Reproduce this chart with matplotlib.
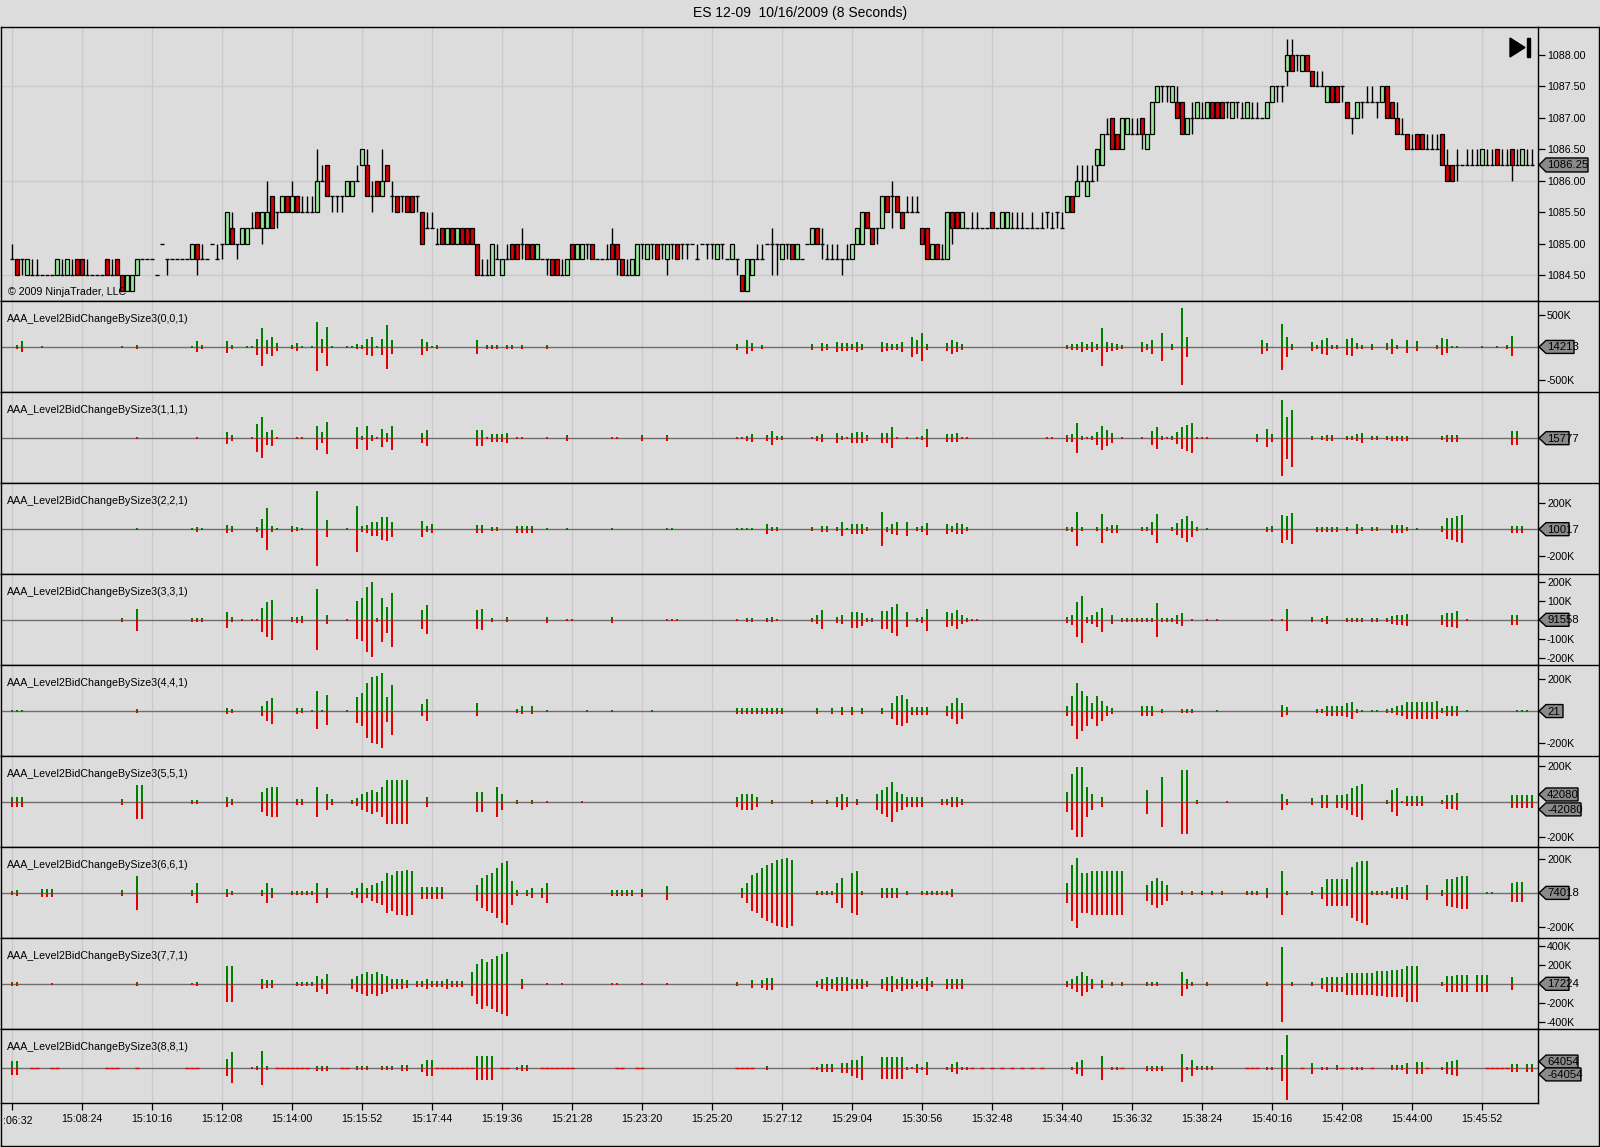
import matplotlib
matplotlib.use("Agg")
import matplotlib.pyplot as plt
from matplotlib.patches import Polygon

plt.rcParams['font.family'] = ['Liberation Sans', 'DejaVu Sans']

# ---------------------------------------------------------------- data
TITLE = "ES 12-09  10/16/2009 (8 Seconds)"
COPYRIGHT = "\u00a9 2009 NinjaTrader, LLC"
# first label is cut by the left edge in the reference, only ":06:32" is visible
TIME_LABELS = [":06:32", "15:08:24", "15:10:16", "15:12:08", "15:14:00", "15:15:52",
               "15:17:44", "15:19:36", "15:21:28", "15:23:20", "15:25:20", "15:27:12",
               "15:29:04", "15:30:56", "15:32:48", "15:34:40", "15:36:32", "15:38:24",
               "15:40:16", "15:42:08", "15:44:00", "15:45:52"]
TIME_LABEL_BARS = [0, 14, 28, 42, 56, 70, 84, 98, 112, 126, 140, 154, 168, 182, 196, 210,
                   224, 238, 252, 266, 280, 294]

PRICE_BASE = 1084.0
TICK = 0.25
PRICE_TICKS = [1084.5, 1085.0, 1085.5, 1086.0, 1086.5, 1087.0, 1087.5, 1088.0]
PRICE_GRID = [1084.5, 1086.0, 1087.5]
LAST_PRICE = 1086.25

# OHLC in ticks above PRICE_BASE, one entry per 8-second bar
O_T = [3,3,3,2,2,2,2,2,2,2, 2,2,2,3,3,2,2,2,2,3, 2,3,2,1,1,2,3,3,3,2, 4,3,3,3,3,3,3,4,3,3,
       4,3,4,4,5,4,4,4,5,6, 5,5,7,6,6,7,6,7,6,6, 6,6,8,9,7,7,7,7,7,8, 9,9,7,8,7,9,7,7,7,7,
       7,7,6,5,5,4,5,4,5,4, 5,5,5,4,2,2,2,3,2,3, 4,4,4,4,4,3,3,3,3,3, 2,2,4,3,3,4,4,3,3,3,
       4,4,3,2,2,2,4,3,4,4, 4,3,4,4,4,4,4,3,4,4, 4,3,4,3,3,3,2,1,2,3, 3,4,4,4,3,4,4,3,3,4,
       4,5,4,3,3,3,3,3,3,4, 4,6,5,5,5,7,7,7,6,6, 6,6,5,5,3,4,3,3,6,6, 5,5,5,5,5,5,6,5,5,5,
       5,5,5,5,5,5,5,6,5,6, 5,6,7,7,8,7,8,9,9,11, 12,11,10,11,11,11,12,10,11,13,
       14,14,13,13,13,11,12,12,12,12, 13,13,13,13,12,13,12,12,12,12, 12,12,13,14,14,15,16,16,15,16,
       15,14,14,13,14,14,14,13,12,12, 13,13,13,13,13,14,13,12,11,11, 10,11,11,10,10,10,11,9,9,9,
       9,9,9,9,9,9,9,10,9,9, 10,9,9,9,9]
C_T = [3,2,3,3,2,2,2,2,2,3, 2,3,2,2,2,2,2,2,2,2, 2,2,1,2,2,3,3,3,3,2, 4,3,3,3,3,3,4,3,3,3,
       4,3,4,6,4,4,5,5,5,5, 6,6,5,6,7,6,7,6,6,6, 6,8,8,7,7,7,7,8,8,8, 10,7,7,7,8,8,7,6,7,6,
       6,7,4,5,5,4,4,5,4,5, 4,4,4,2,2,2,4,3,3,3, 3,3,4,3,3,4,3,3,2,2, 2,3,3,4,4,4,3,3,3,3,
       3,3,2,2,3,4,4,4,4,3, 4,4,4,3,4,4,4,3,4,4, 4,4,4,3,4,3,1,3,3,3, 3,4,4,4,4,4,3,4,3,4,
       5,4,4,3,3,3,3,3,4,5, 6,5,4,5,7,6,7,6,5,6, 6,6,4,3,4,3,3,6,5,5, 6,5,5,5,5,5,5,5,6,6,
       5,5,5,5,5,5,5,6,5,6, 5,7,6,8,8,8,8,10,11,11, 10,10,12,12,11,11,11,11,13,14,
       14,14,14,12,11,12,12,13,12,13, 12,12,12,13,13,13,12,13,12,12, 12,13,14,14,14,16,15,16,16,15,
       14,14,14,14,13,13,14,12,12,13, 13,13,13,13,14,12,12,11,11,10, 10,10,10,10,10,10,9,8,8,9,
       9,9,9,9,10,9,9,9,9,9, 9,9,10,9,9]
H_T = [4,3,3,3,3,3,2,2,2,3, 3,3,3,3,3,3,2,2,2,3, 3,3,2,2,2,3,3,3,3,2, 4,3,3,3,3,3,4,4,4,3,
       4,4,4,6,6,4,5,5,6,6, 6,8,7,6,7,7,8,7,7,7, 7,10,9,9,7,7,7,8,8,9, 10,10,8,8,10,9,8,7,7,7,
       7,7,6,6,6,5,5,5,5,5, 5,5,5,4,3,3,4,4,3,4, 4,4,5,4,4,4,3,3,3,3, 3,3,4,4,4,4,4,3,3,4,
       5,4,3,3,3,4,4,4,4,4, 4,4,4,4,4,4,4,4,4,4, 4,4,4,3,4,3,2,3,3,4, 4,4,5,4,4,4,4,4,3,4,
       5,5,5,4,4,4,3,4,4,5, 6,6,5,5,7,7,8,7,6,7, 7,7,5,5,4,4,4,6,6,6, 6,5,6,6,5,5,6,5,6,6,
       6,6,6,5,6,5,6,6,6,6, 6,7,7,9,9,9,9,10,11,12, 12,11,12,12,12,12,12,11,13,14,
       14,14,14,14,13,12,13,13,13,13, 13,13,13,13,13,13,13,13,13,13, 12,13,14,14,14,17,17,16,16,16,
       15,15,15,14,14,14,14,13,12,13, 13,14,14,13,14,14,13,13,12,11, 11,11,11,11,11,11,11,10,9,10,
       9,10,10,10,10,10,10,10,10,10, 10,10,10,10,10]
L_T = [3,2,2,2,2,2,2,2,2,2, 2,2,2,2,2,2,2,2,2,2, 2,2,1,1,1,2,3,3,3,2, 4,2,3,3,3,3,3,2,3,3,
       4,3,3,4,4,3,4,4,5,5, 4,5,5,5,6,6,6,6,6,6, 6,6,8,7,6,6,6,7,7,8, 9,7,6,7,7,8,6,6,6,6,
       6,6,4,5,5,4,4,4,4,4, 4,4,4,2,2,2,2,3,2,3, 3,3,3,3,3,3,3,2,2,2, 2,2,3,3,3,3,3,3,3,3,
       3,2,2,2,2,2,3,3,3,3, 3,2,3,3,3,3,4,3,4,3, 3,3,3,3,3,2,1,1,2,3, 3,4,2,2,3,3,3,3,3,4,
       4,4,3,3,3,3,2,3,3,4, 4,5,4,4,5,6,5,6,5,6, 6,6,4,3,3,3,3,3,4,5, 5,5,5,5,5,5,5,5,5,5,
       5,5,5,5,5,5,5,5,5,5, 5,6,6,7,8,7,8,8,9,11, 10,10,10,11,11,11,10,10,11,13,
       13,13,13,12,11,11,11,12,12,12, 12,12,12,12,12,12,12,12,12,12, 12,12,13,13,13,14,15,15,15,15,
       14,14,14,13,13,13,13,12,11,12, 12,13,13,12,13,12,12,11,11,10, 10,10,10,10,10,10,9,8,8,8,
       9,9,9,9,9,9,9,9,9,9, 8,9,9,9,9]

PANEL_NAMES = ["AAA_Level2BidChangeBySize3(%d,%d,1)" % (k, k) for k in range(9)]

# (bar index, green value up [K], red value down [K])
BARS_0 = [(1,30,30),(2,90,75),(6,15,15),(22,15,15),(25,30,30),(36,15,15),(37,90,75),(38,30,30),
          (43,90,90),(44,30,30),(47,15,15),(48,15,15),(49,125,125),(50,290,290),(51,110,110),
          (52,155,140),(53,60,60),(56,30,30),(57,60,60),(58,15,15),(60,15,15),(61,385,370),
          (62,125,90),(63,310,290),(64,15,15),(67,15,15),(68,15,15),(69,45,30),(70,30,30),
          (71,125,125),(72,155,140),(73,15,15),(74,125,125),(75,340,340),(76,110,110),
          (82,125,125),(83,75,60),(84,15,15),(85,30,30),(93,110,110),(95,30,30),(96,30,30),
          (97,30,30),(99,30,30),(100,30,30),(102,30,30),(107,30,30),(145,45,45),(147,110,110),
          (148,60,60),(150,30,30),(160,45,45),(162,60,60),(163,45,45),(165,75,75),(166,60,60),
          (167,60,60),(168,45,45),(169,75,75),(170,45,45),(174,75,75),(175,60,60),(176,45,45),
          (177,45,45),(178,75,75),(180,155,155),(181,110,110),(182,215,215),(183,45,45),
          (187,60,60),(188,110,110),(189,75,75),(190,45,45),(211,30,30),(212,45,45),(213,45,45),
          (214,75,75),(215,45,45),(216,75,75),(217,45,45),(218,290,290),(219,75,75),(220,60,60),
          (221,45,45),(222,30,30),(226,75,75),(227,45,45),(228,110,110),(230,215,215),
          (232,45,45),(234,600,580),(235,155,155),(250,110,110),(251,60,60),(254,355,355),
          (255,155,155),(256,45,45),(260,75,65),(261,30,30),(262,110,110),(263,140,120),
          (264,30,30),(265,30,30),(267,125,130),(268,140,145),(269,60,30),(270,30,30),
          (272,45,45),(275,60,45),(276,125,110),(277,30,30),(279,110,90),(281,90,65),
          (285,30,30),(286,140,130),(287,125,90),(288,15,15),(289,15,15),(294,15,15),
          (297,15,15),(299,30,30),(300,165,145)]
BARS_1 = [(25,10,10),(37,10,10),(43,67,57),(44,33,27),(48,10,10),(49,143,133),(50,217,193),
          (51,67,67),(52,83,73),(53,10,10),(57,10,10),(58,10,10),(61,123,117),(62,67,50),
          (63,163,157),(69,117,107),(70,20,20),(71,123,117),(72,30,30),(73,10,10),(74,93,83),
          (75,50,40),(76,123,117),(82,57,43),(83,83,77),(93,83,77),(94,83,77),(95,10,10),
          (96,43,33),(97,43,33),(98,43,33),(99,57,50),(101,10,10),(102,10,10),(107,10,10),
          (111,33,23),(120,10,10),(121,10,10),(126,30,30),(131,30,30),(145,10,10),(146,10,10),
          (147,25,25),(148,43,40),(151,33,23),(152,77,67),(153,20,20),(154,20,20),(160,10,10),
          (161,27,23),(162,43,33),(165,57,43),(166,20,20),(167,10,10),(168,57,47),(169,63,50),
          (170,63,50),(171,30,30),(174,57,43),(175,57,43),(176,117,100),(177,10,10),(179,10,10),
          (181,10,10),(182,20,20),(183,93,83),(187,43,33),(188,43,33),(189,57,40),(190,10,10),
          (191,10,10),(207,10,10),(208,10,10),(211,33,33),(212,43,40),(213,150,143),(214,20,20),
          (215,10,10),(216,20,20),(217,67,67),(218,123,117),(219,83,73),(220,50,50),(222,10,10),
          (226,10,10),(228,73,67),(229,110,107),(230,20,20),(231,10,10),(232,20,20),(233,67,57),
          (234,110,107),(235,133,127),(236,157,143),(237,10,10),(238,10,10),(239,10,10),
          (249,43,40),(251,93,83),(252,43,33),(254,383,373),(255,217,207),(256,283,283),
          (260,20,20),(262,20,20),(263,33,27),(264,33,27),(267,20,20),(268,20,20),(269,43,27),
          (270,50,43),(272,20,20),(273,20,20),(275,20,20),(276,25,25),(277,25,25),(278,25,25),
          (279,25,25),(286,20,20),(287,33,33),(288,33,33),(289,33,33),(300,73,67),(301,73,67)]
BARS_2 = [(25,8,8),(36,8,8),(37,20,17),(38,8,8),(43,32,25),(44,28,23),(49,20,17),(50,75,68),
          (51,160,155),(52,25,20),(53,8,8),(56,25,20),(57,15,15),(58,8,8),(61,290,280),
          (63,70,60),(67,8,8),(69,175,170),(70,28,23),(71,32,30),(72,53,50),(73,53,50),
          (74,95,80),(75,90,88),(76,58,55),(82,63,55),(83,28,23),(84,40,30),(93,32,25),
          (94,32,25),(96,15,15),(97,15,15),(101,25,25),(102,25,25),(103,25,25),(104,25,25),
          (107,8,8),(111,8,8),(120,8,8),(131,8,8),(132,8,8),(145,8,8),(146,8,8),(147,8,8),
          (148,8,8),(151,40,35),(152,15,15),(153,15,15),(160,15,15),(162,28,23),(163,28,23),
          (165,15,15),(166,53,50),(167,8,8),(168,38,35),(169,38,35),(170,38,35),(171,15,15),
          (174,128,123),(175,20,17),(176,40,35),(177,53,45),(179,53,50),(181,15,15),(182,25,17),
          (183,45,40),(187,40,35),(188,28,23),(189,45,35),(190,40,35),(191,15,15),(211,15,15),
          (212,20,17),(213,128,123),(214,15,15),(217,15,15),(218,113,105),(219,15,15),
          (220,32,25),(221,32,25),(226,15,15),(227,15,15),(228,53,43),(229,113,105),(232,15,15),
          (233,45,40),(234,75,68),(235,100,93),(236,63,55),(237,15,15),(239,8,8),(251,20,20),
          (252,28,23),(254,108,100),(255,100,80),(256,120,113),(261,19,19),(262,19,19),
          (263,19,19),(264,19,19),(265,19,19),(267,15,15),(269,40,35),(270,15,15),(272,15,15),
          (273,15,15),(276,32,25),(277,32,25),(278,32,25),(279,15,15),(281,8,8),(286,23,23),
          (287,83,75),(288,88,80),(289,103,95),(290,108,100),(300,28,25),(301,28,25),(302,28,25)]
BARS_3 = [(22,12,12),(25,56,55),(36,10,10),(37,10,10),(38,10,10),(43,43,40),(44,13,13),(46,5,5),
          (48,5,5),(49,5,5),(50,60,60),(51,94,91),(52,103,103),(56,13,13),(57,15,15),(58,21,17),
          (61,159,157),(63,26,21),(67,5,5),(69,100,100),(70,112,110),(71,171,168),(72,197,193),
          (73,10,10),(74,114,112),(75,68,66),(76,142,142),(82,51,48),(83,77,73),(93,51,48),
          (94,56,51),(96,10,10),(99,13,13),(107,17,15),(111,5,5),(112,5,5),(120,17,15),
          (131,5,5),(132,5,5),(133,5,5),(145,5,5),(147,10,10),(148,12,12),(151,10,10),
          (152,13,13),(153,5,5),(160,10,10),(161,26,22),(162,51,48),(165,17,15),(166,26,22),
          (168,40,40),(169,40,40),(170,34,31),(171,10,10),(172,10,10),(174,46,46),(175,46,46),
          (176,68,68),(177,82,81),(179,40,34),(181,10,10),(182,17,15),(183,56,55),(187,40,38),
          (188,34,31),(189,51,48),(190,26,22),(191,10,10),(192,5,5),(193,5,5),(211,17,15),
          (212,26,24),(213,94,86),(214,123,120),(215,15,15),(216,26,22),(217,40,34),(218,60,60),
          (220,26,22),(222,12,12),(223,12,12),(224,12,12),(225,12,12),(226,12,12),(227,12,12),
          (228,12,12),(229,89,86),(230,10,10),(231,10,10),(232,10,10),(233,26,22),(234,34,31),
          (236,5,5),(239,5,5),(241,5,5),(252,5,5),(254,5,5),(255,55,55),(260,14,12),(262,10,10),
          (263,21,21),(267,10,10),(268,10,10),(269,10,10),(270,10,10),(272,10,10),(273,10,10),
          (275,10,10),(276,21,21),(277,26,26),(278,26,26),(279,29,29),(286,26,26),(287,34,34),
          (288,34,34),(289,46,43),(291,5,5),(300,26,26),(301,26,26)]
BARS_4 = [(0,6,6),(1,6,6),(2,6,6),(25,12,12),(43,19,19),(44,12,12),(50,31,31),(51,62,62),
          (52,81,81),(57,19,19),(58,21,14),(60,6,6),(61,125,114),(62,6,6),(63,98,89),(67,6,6),
          (69,88,77),(70,111,94),(71,173,167),(72,212,198),(73,219,208),(74,239,229),(75,88,69),
          (76,161,150),(82,42,31),(83,73,62),(93,48,31),(101,12,12),(102,31,19),(104,31,19),
          (107,6,6),(115,6,6),(120,6,6),(128,6,6),(145,19,19),(146,19,19),(147,19,19),
          (148,19,19),(149,19,19),(150,19,19),(151,19,19),(152,19,19),(153,19,19),(154,19,19),
          (161,19,19),(164,19,19),(166,25,25),(168,25,25),(170,19,19),(174,19,19),(176,50,50),
          (177,94,88),(178,100,94),(179,75,75),(180,25,25),(181,25,25),(182,25,25),(183,25,25),
          (187,31,31),(188,50,50),(189,81,81),(190,50,50),(211,31,31),(212,94,94),(213,175,175),
          (214,125,125),(215,94,94),(216,50,50),(217,94,94),(218,62,62),(219,31,31),(220,19,19),
          (226,31,31),(227,31,31),(228,31,31),(230,12,12),(234,12,12),(235,12,12),(236,12,12),
          (241,6,6),(254,38,38),(255,25,25),(261,12,12),(262,12,12),(263,31,31),(264,31,31),
          (265,31,31),(266,31,31),(267,48,39),(268,58,52),(269,12,12),(270,6,6),(272,6,6),
          (273,6,6),(275,12,12),(276,17,12),(277,31,25),(278,38,31),(279,58,52),(280,58,52),
          (281,58,52),(282,58,52),(283,58,52),(284,58,52),(285,65,52),(286,17,12),(287,31,31),
          (288,31,31),(289,31,31),(291,6,6),(301,6,6),(302,6,6),(303,6,6)]
BARS_5 = [(0,28,28),(1,28,28),(2,28,28),(22,17,17),(25,96,96),(26,96,96),(36,11,11),(37,11,11),
          (43,28,28),(44,17,17),(50,56,56),(51,79,79),(52,84,84),(53,84,84),(57,17,17),
          (58,17,17),(61,84,84),(63,45,45),(64,17,17),(68,11,11),(69,23,23),(70,45,45),
          (71,56,56),(72,68,68),(73,56,56),(74,84,84),(75,124,124),(76,124,124),(77,124,124),
          (78,124,124),(79,124,124),(83,28,28),(93,56,56),(94,56,56),(97,84,84),(98,45,45),
          (101,11,11),(104,11,11),(107,6,6),(114,6,6),(145,28,28),(146,45,45),(147,45,45),
          (148,45,45),(149,28,28),(152,11,11),(160,11,11),(163,11,11),(165,28,28),(166,45,45),
          (167,28,28),(169,17,17),(173,45,45),(174,68,68),(175,84,84),(176,113,113),(177,56,56),
          (178,45,45),(179,28,28),(180,28,28),(181,28,28),(182,28,28),(186,17,17),(187,17,17),
          (188,28,28),(189,28,28),(190,17,17),(211,56,56),(212,158,158),(213,197,197),
          (214,197,197),(215,84,84),(216,45,45),(218,28,28),(227,68,68),(230,141,141),
          (234,180,180),(235,180,180),(237,11,11),(243,6,6),(254,45,45),(255,17,17),(260,23,19),
          (262,38,34),(263,38,34),(265,38,34),(266,38,34),(267,45,43),(268,79,72),(269,88,84),
          (270,101,100),(275,13,13),(276,69,58),(277,79,77),(278,6,6),(279,32,24),(280,32,24),
          (281,32,24),(282,32,24),(286,13,13),(287,38,38),(288,41,41),(289,51,47),(300,41,34),
          (301,41,34),(302,41,34),(303,41,34),(304,41,34)]
BARS_6 = [(0,12,12),(1,18,18),(6,24,24),(7,24,24),(8,24,24),(22,18,18),(25,100,100),(36,18,18),
          (37,59,59),(43,24,24),(44,12,12),(50,18,18),(51,59,59),(52,29,29),(56,12,12),(57,12,12),
          (58,12,12),(59,12,12),(60,12,12),(61,59,59),(63,29,29),(68,12,12),(69,29,29),(70,59,59),
          (71,29,29),(72,47,47),(73,59,59),(74,71,71),(75,118,118),(76,106,106),(77,129,129),
          (78,129,129),(79,135,135),(80,129,129),(82,35,35),(83,35,35),(84,35,35),(85,35,35),
          (86,35,35),(93,47,47),(94,88,88),(95,106,106),(96,118,118),(97,147,147),(98,176,176),
          (99,188,188),(100,71,71),(101,18,18),(103,18,18),(104,29,29),(106,29,29),(107,59,59),
          (120,18,18),(121,18,18),(122,18,18),(123,18,18),(124,18,18),(126,24,24),(131,41,41),
          (146,29,29),(147,59,59),(148,106,106),(149,118,118),(150,147,147),(151,165,165),
          (152,176,176),(153,194,194),(154,200,200),(155,206,206),(156,194,194),(161,12,12),
          (162,12,12),(163,12,12),(164,12,12),(165,59,59),(166,88,88),(168,118,118),
          (169,129,129),(170,12,12),(174,29,29),(175,29,29),(176,29,29),(177,29,29),(179,12,12),
          (182,12,12),(183,12,12),(184,12,12),(185,12,12),(186,12,12),(187,12,12),(188,24,24),
          (211,59,59),(212,165,165),(213,206,206),(214,118,118),(215,118,118),(216,129,129),
          (217,129,129),(218,129,129),(219,129,129),(220,129,129),(221,129,129),(222,129,129),
          (227,47,47),(228,71,71),(229,88,88),(230,71,71),(231,47,47),(234,12,12),(236,12,12),
          (238,12,12),(240,12,12),(242,12,12),(247,12,12),(248,12,12),(249,12,12),(251,29,29),
          (254,129,129),(255,12,12),(260,14,14),(262,35,34),(263,82,78),(264,82,78),(265,82,78),
          (266,82,78),(267,82,78),(268,153,147),(269,182,166),(270,186,176),(271,186,186),
          (272,12,12),(273,12,12),(274,12,12),(275,12,12),(276,29,29),(277,35,35),(278,35,35),
          (279,45,39),(283,45,39),(286,19,19),(287,82,78),(288,84,80),(289,92,88),(290,98,94),
          (291,98,94),(295,6,6),(296,6,6),(300,59,55),(301,63,55),(302,65,55)]
BARS_7 = [(0,21,21),(1,21,21),(8,10,10),(25,21,21),(36,10,10),(37,21,21),(43,189,189),
          (44,189,189),(50,52,52),(51,42,42),(52,42,42),(57,21,21),(58,21,21),(59,21,21),
          (60,21,21),(61,84,84),(62,52,52),(63,105,105),(68,52,52),(69,84,84),(70,105,105),
          (71,126,126),(72,105,105),(73,126,126),(74,105,105),(75,84,84),(76,52,52),(77,52,52),
          (78,52,52),(79,42,42),(81,31,31),(82,31,31),(83,52,52),(84,31,31),(85,31,31),
          (86,31,31),(87,52,52),(88,31,31),(89,31,31),(90,31,31),(92,126,126),(93,210,210),
          (94,262,262),(95,231,231),(96,262,262),(97,294,294),(98,315,315),(99,336,336),
          (102,52,52),(107,10,10),(110,10,10),(120,10,10),(121,10,10),(126,10,10),(131,10,10),
          (145,21,21),(148,42,42),(150,42,42),(151,63,63),(152,63,63),(161,31,31),(162,52,52),
          (163,73,73),(164,52,52),(165,73,73),(166,73,73),(167,73,73),(168,52,52),(169,52,52),
          (170,52,52),(171,31,31),(174,52,52),(175,73,73),(176,84,84),(177,52,52),(178,73,73),
          (179,52,52),(180,52,52),(181,31,31),(182,52,52),(183,73,73),(184,31,31),(187,52,52),
          (188,52,52),(189,52,52),(190,52,52),(211,31,31),(212,52,52),(213,84,84),(214,126,126),
          (215,84,84),(216,52,52),(218,42,42),(220,21,21),(222,21,21),(227,21,21),(228,21,21),
          (229,21,21),(234,126,126),(235,52,52),(236,21,21),(239,21,21),(251,21,21),
          (254,388,400),(256,21,21),(260,24,24),(262,66,56),(263,77,81),(264,77,81),(265,77,81),
          (266,77,81),(267,119,116),(268,119,116),(269,119,116),(270,119,116),(271,119,116),
          (272,119,116),(273,137,126),(274,137,126),(275,137,133),(276,147,140),(277,147,140),
          (278,154,140),(279,189,186),(280,189,186),(281,189,186),(286,24,24),(287,84,81),
          (288,84,81),(289,95,88),(290,95,88),(291,95,88),(293,95,88),(294,95,88),(295,95,88),
          (300,70,63)]
BARS_8 = [(0,73,67),(1,73,67),(43,90,83),(44,157,150),(48,10,10),(49,23,23),(50,173,173),
          (51,20,20),(61,23,27),(62,23,27),(63,23,27),(69,20,20),(70,20,20),(71,20,20),(74,20,20),
          (75,20,20),(76,20,20),(78,30,30),(79,30,30),(82,43,43),(83,83,83),(84,83,83),
          (93,117,117),(94,117,117),(95,117,117),(96,117,117),(101,15,15),(102,33,33),(103,33,33),
          (151,20,20),(161,15,15),(162,40,43),(163,40,43),(164,40,43),(166,50,50),(167,50,50),
          (168,77,77),(169,83,100),(170,123,123),(174,107,107),(175,107,107),(176,107,107),
          (177,107,107),(178,107,107),(179,15,15),(180,10,10),(181,40,50),(182,15,15),
          (183,63,67),(187,15,15),(188,40,43),(189,60,60),(190,15,15),(191,15,15),(212,15,15),
          (213,60,60),(214,77,83),(218,123,123),(220,15,15),(221,15,15),(227,25,25),(228,25,25),
          (229,25,25),(230,25,25),(234,143,143),(235,15,15),(236,83,77),(237,20,20),(238,20,20),
          (239,20,20),(240,20,20),(251,15,15),(252,15,15),(254,133,133),(255,327,323),
          (260,50,57),(262,15,15),(263,15,15),(265,27,23),(268,15,15),(269,15,15),(270,15,15),
          (276,27,23),(277,27,23),(278,27,23),(279,50,57),(281,57,55),(282,57,55),(286,15,15),
          (287,60,60),(288,67,67),(289,83,77),(300,43,43),(301,43,43),(303,43,43),(304,43,43)]
P8_ZERO_MARKS = [4,5,8,9,19,20,21,25,35,36,37,53,54,55,56,57,58,59,66,67,85,86,87,88,89,90,91,
                 92,98,99,106,107,108,109,110,111,112,121,122,125,126,145,146,147,148,160,192,
                 194,196,198,200,202,204,206,222,247,248,249,258,266,272,283,295,296,297,298,299]

PANEL_BARS = [BARS_0, BARS_1, BARS_2, BARS_3, BARS_4, BARS_5, BARS_6, BARS_7, BARS_8]
PANEL_YLIM = [(-692, 708), (-447, 463), (-337, 349), (-234, 239), (-281, 288), (-254, 259),
              (-265, 271), (-474, 484), (-350, 390)]
PANEL_TICKS = [[500, -500], [], [200, -200], [200, 100, -100, -200], [200, -200], [200, -200],
               [200, -200], [400, 200, -200, -400], []]
# right-hand value markers: (value, text, box right edge px)
PANEL_MARKERS = [[(1.421, "14213", 1574)], [(1.577, "15777", 1569)], [(1.001, "10017", 1569)],
                 [(0.9155, "91558", 1569)], [(0.021, "21", 1563)],
                 [(42.08, "42080", 1578), (-42.08, "-42080", 1581)], [(0.7401, "74018", 1569)],
                 [(1.722, "17224", 1569)], [(64.054, "64054", 1578), (-64.054, "-64054", 1581)]]

# ---------------------------------------------------------------- style
W, H = 1600, 1147
BG = "#DCDCDC"
GRID = "#C9C9C9"
GREEN = "#007F00"
RED = "#E60000"
UP_FILL = "#98E898"
DN_FILL = "#D20000"
FS = 7.7
XL = (-2.2, 305.2)
PANEL_TOPS = [301, 392, 483, 574, 665, 756, 847, 938, 1029]
PANEL_BOTS = [392, 483, 574, 665, 756, 847, 938, 1029, 1103]
RIGHT_X = 1538


def rect(x0, y0, x1, y1):
    return [x0 / W, 1 - y1 / H, (x1 - x0) / W, (y1 - y0) / H]


def style_axes(ax):
    ax.set_facecolor(BG)
    ax.set_xlim(*XL)
    for s in ax.spines.values():
        s.set_color("black")
        s.set_linewidth(1.0)
    ax.set_xticks(TIME_LABEL_BARS)
    ax.grid(axis="x", color=GRID, lw=0.9)
    ax.set_axisbelow(True)
    ax.yaxis.tick_right()
    ax.tick_params(axis="y", direction="out", length=5, width=0.9, labelsize=FS, pad=1.5,
                   colors="black")
    ax.tick_params(axis="x", length=0, labelbottom=False)


fig = plt.figure(figsize=(W / 100, H / 100), dpi=100, facecolor=BG)

# ---------------------------------------------------------------- price panel
pax = fig.add_axes(rect(1, 27, RIGHT_X, 301))
style_axes(pax)
pax.set_ylim(1084.086, 1088.445)
pax.set_yticks(PRICE_TICKS)
pax.set_yticklabels(["%.2f" % p for p in PRICE_TICKS])
for g in PRICE_GRID:
    pax.axhline(g, color=GRID, lw=0.9, zorder=0.5)

opens = [PRICE_BASE + TICK * v for v in O_T]
closes = [PRICE_BASE + TICK * v for v in C_T]
highs = [PRICE_BASE + TICK * v for v in H_T]
lows = [PRICE_BASE + TICK * v for v in L_T]
idx = list(range(len(opens)))
bw = 0.78
pax.vlines([i for i in idx if highs[i] > lows[i]],
           [lows[i] for i in idx if highs[i] > lows[i]],
           [highs[i] for i in idx if highs[i] > lows[i]], color="black", lw=1.0, zorder=2)
for i in idx:
    o, c = opens[i], closes[i]
    if o == c:
        pax.hlines(o, i - bw / 2, i + bw / 2, color="black", lw=1.0, zorder=3)
    else:
        pax.bar(i, abs(c - o), bottom=min(o, c), width=bw,
                color=UP_FILL if c > o else DN_FILL, edgecolor="black", lw=0.9, zorder=3)
pax.text(7 / (RIGHT_X - 1), 1 - (292 - 27) / 274, COPYRIGHT, transform=pax.transAxes,
         fontsize=FS, va="center", ha="left")

# ---------------------------------------------------------------- indicator panels
axes = []
for k in range(9):
    ax = fig.add_axes(rect(1, PANEL_TOPS[k], RIGHT_X, PANEL_BOTS[k]))
    style_axes(ax)
    ax.set_ylim(*PANEL_YLIM[k])
    ax.set_yticks(PANEL_TICKS[k])
    ax.set_yticklabels(["%dK" % t for t in PANEL_TICKS[k]])
    ax.axhline(0, color="#6E6E6E", lw=1.0, zorder=1)
    bars = PANEL_BARS[k]
    xs = [b[0] for b in bars]
    ax.bar(xs, [b[1] for b in bars], width=0.55, color=GREEN, zorder=3, lw=0)
    ax.bar(xs, [-b[2] for b in bars], width=0.55, color=RED, zorder=3, lw=0)
    if k == 8:
        ax.hlines([0] * len(P8_ZERO_MARKS), [m - 0.45 for m in P8_ZERO_MARKS],
                  [m + 0.45 for m in P8_ZERO_MARKS], color=RED, lw=1.0, zorder=2)
    ph = PANEL_BOTS[k] - PANEL_TOPS[k]
    ax.text(6 / (RIGHT_X - 1), 1 - 18 / ph, PANEL_NAMES[k], transform=ax.transAxes,
            fontsize=FS, va="center", ha="left")
    axes.append(ax)

bax = axes[-1]
bax.tick_params(axis="x", direction="out", length=5, width=0.9, labelbottom=True,
                labelsize=FS, pad=3)
bax.set_xticklabels([""] + TIME_LABELS[1:])
# the first label, of which only the right part shows at the left edge
bax.text(2 / (RIGHT_X - 1), -17.5 / (PANEL_BOTS[8] - PANEL_TOPS[8]), TIME_LABELS[0],
         transform=bax.transAxes, fontsize=FS, ha="left", va="center")

# ---------------------------------------------------------------- overlay (frames, markers)
ov = fig.add_axes([0, 0, 1, 1])
ov.set_xlim(0, W)
ov.set_ylim(H, 0)
ov.axis("off")
ov.patch.set_alpha(0)

for y in [27] + PANEL_TOPS:
    ov.plot([RIGHT_X, 1599], [y, y], color="black", lw=1.0)
ov.plot([1599, 1599], [27, 1146], color="black", lw=1.0)
ov.plot([1, 1599], [1146, 1146], color="black", lw=1.0)
ov.plot([1, 1], [1103, 1146], color="black", lw=1.0)

fig.text(0.5, 1 - 13 / H, TITLE, ha="center", va="center", fontsize=10)

# play-to-end icon in the price panel
ov.add_patch(Polygon([(1510, 38), (1510, 57), (1525, 47.5)], closed=True, fc="black", ec="black"))
ov.add_patch(Polygon([(1527, 38), (1530, 38), (1530, 57), (1527, 57)], closed=True,
                     fc="black", ec="black"))


def value_marker(ax, value, text, x_end, h=13):
    ypx = H - ax.transData.transform((0, value))[1]
    x0 = RIGHT_X + 1
    pts = [(x0, ypx), (x0 + 7, ypx - h / 2), (x_end, ypx - h / 2), (x_end, ypx + h / 2),
           (x0 + 7, ypx + h / 2)]
    poly = Polygon(pts, closed=True, fc="#8A8A8A", ec="black", lw=1.0)
    ov.add_patch(poly)
    t = ov.text(x0 + 8, ypx + 0.5, text, va="center", ha="left", fontsize=FS + 0.5,
                color="black")
    t.set_clip_path(poly)


value_marker(pax, LAST_PRICE, "1086.25", 1588, h=14)
for k in range(9):
    for value, text, x_end in PANEL_MARKERS[k]:
        value_marker(axes[k], value, text, x_end)

fig.savefig("out.png", dpi=100, facecolor=BG)
